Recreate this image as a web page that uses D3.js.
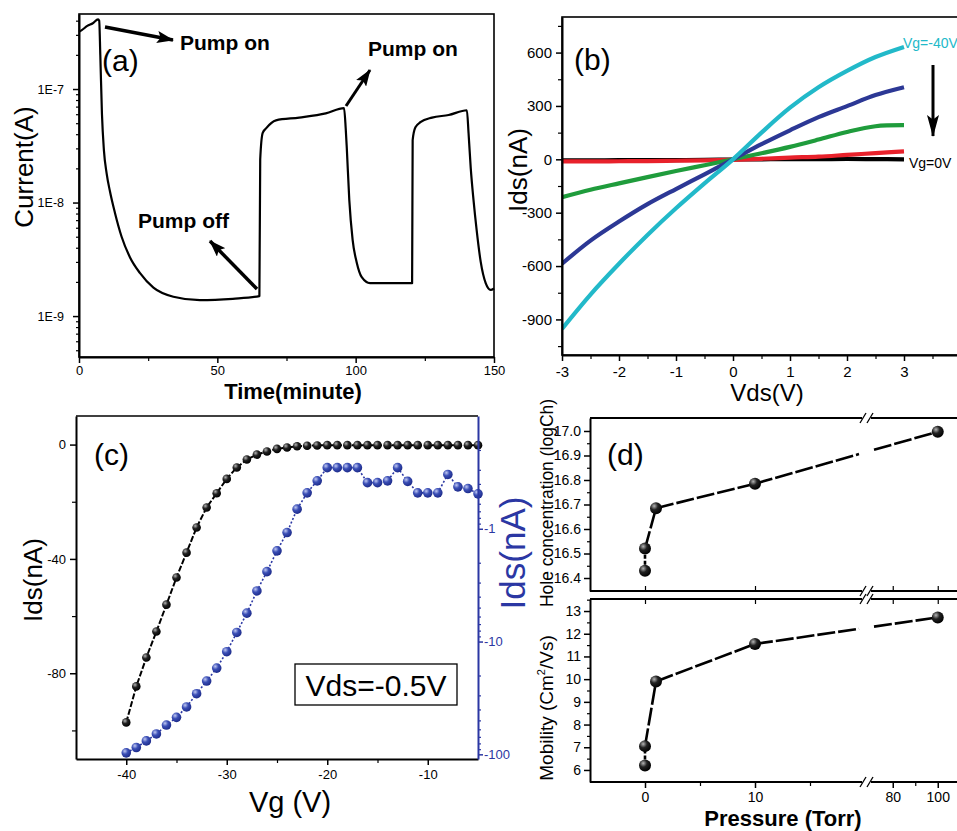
<!DOCTYPE html>
<html>
<head>
<meta charset="utf-8">
<script src="https://cdn.jsdelivr.net/npm/d3@7/dist/d3.min.js"></script>
<style>
html,body{margin:0;padding:0;background:#fff;}
svg{display:block;}
</style>
</head>
<body>
<svg id="fig" width="957" height="831"></svg>
<script>
// ================= DATA =================
// (a) current vs time
const aTime = [0,1,3,5,6.9,7.3,7.7,8.3,9,10,11.2,13,15.4,18.4,22,26.9,34.1,43.7,55.6,65.2,65.5,66.4,67.6,71.2,79.6,89.2,95.8,96.4,96.8,97.7,98.9,100.4,102.2,105.2,112,120.4,120.6,121.6,123.4,127.6,133.6,140.2,140.8,141.6,142.6,143.7,145.2,147,148.8,150];
const aCurrent = [3.2e-7,3.3e-7,3.6e-7,3.8e-7,4.1e-7,4.0e-7,2.0e-7,6e-8,2.9e-8,1.8e-8,1.25e-8,8.1e-9,5.0e-9,3.3e-9,2.4e-9,1.78e-9,1.48e-9,1.38e-9,1.42e-9,1.5e-9,2.4e-8,4.1e-8,4.5e-8,5.3e-8,5.6e-8,6.1e-8,6.8e-8,4.5e-8,3e-8,1.05e-8,4.7e-9,2.95e-9,2.2e-9,1.95e-9,1.95e-9,1.95e-9,3.55e-8,4.6e-8,5.1e-8,5.6e-8,5.9e-8,6.5e-8,4.1e-8,2e-8,1.05e-8,5.8e-9,3.0e-9,1.95e-9,1.7e-9,1.75e-9];
const aXTicks = [0,50,100,150];
const aXMinor = [25,75,125];
const aYTicks = [1e-9,1e-8,1e-7];
const aYTickLabels = ["1E-9","1E-8","1E-7"];

// (b) Ids vs Vds for several Vg
const bVds   = [-3,-2.5,-2,-1.5,-1,-0.5,0,0.5,1,1.5,2,2.5,3];
const bBlack = [-6,-6,-5,-5,-4,-3,-1,0,1,1,2,1,0];
const bRed   = [-12,-12,-11,-10,-8,-6,-3,3,10,15,25,35,45];
const bGreen = [-213,-171,-135,-100,-66,-33,0,34,70,111,154,186,192];
const bBlue  = [-587,-457,-350,-252,-167,-85,0,85,163,237,299,361,405];
const bCyan  = [-953,-760,-587,-425,-275,-135,0,150,290,405,497,575,632];
const bXTicks = [-3,-2,-1,0,1,2,3];
const bXMinor = [-2.5,-1.5,-0.5,0.5,1.5,2.5,3.5];
const bYTicks = [-900,-600,-300,0,300,600];
const bYMinor = [-1050,-750,-450,-150,150,450,750];

// (c) transfer curve
const cVg = [-40,-39,-38,-37,-36,-35,-34,-33,-32,-31,-30,-29,-28,-27,-26,-25,-24,-23,-22,-21,-20,-19,-18,-17,-16,-15,-14,-13,-12,-11,-10,-9,-8,-7,-6,-5];
const cIdsLin = [-97.2,-84.6,-74.5,-65.4,-56,-46.5,-37.8,-29,-22,-17,-12,-8,-5.2,-3.5,-2.4,-1.5,-1,-0.6,-0.4,-0.3,-0.2,-0.2,-0.2,-0.2,-0.2,-0.2,-0.2,-0.2,-0.2,-0.2,-0.2,-0.2,-0.2,-0.2,-0.2,-0.2];
const cIdsLog = [-97,-87,-76,-66,-55,-47,-38,-29,-22.4,-17.2,-12.3,-8.3,-5.6,-3.56,-2.4,-1.57,-1.08,-0.67,-0.48,-0.376,-0.287,-0.287,-0.287,-0.287,-0.39,-0.39,-0.376,-0.287,-0.38,-0.48,-0.48,-0.48,-0.33,-0.425,-0.44,-0.49];
const cXTicks = [-40,-30,-20,-10];
const cXMinor = [-35,-25,-15];
const cYTicks = [0,-40,-80];
const cYMinor = [-20,-60,-100];
const cY2Ticks = [-1,-10,-100];

// (d) hole concentration and mobility vs pressure
const dPressure = [0,0,1,10,100];
const dHole = [16.43,16.52,16.685,16.785,16.997];
const dMobility = [6.2,7.05,9.9,11.55,12.72];
const dHoleTicks = [16.4,16.5,16.6,16.7,16.8,16.9,17.0];
const dMobTicks = [6,7,8,9,10,11,12,13];
const dXTicksLeft = [0,10];
const dXTicksRight = [80,100];
const dXMinorLeft = [5,15];
const dXMinorRight = [90];

// ================= DRAWING =================
const F = '"Liberation Sans", Arial, Helvetica, sans-serif';
const svg = d3.select("#fig");
svg.append("rect").attr("width",957).attr("height",831).attr("fill","#fff");
const defs = svg.append("defs");

function radial(id, c0, c1, c2){
  const g = defs.append("radialGradient").attr("id",id).attr("cx","35%").attr("cy","32%").attr("r","70%");
  g.append("stop").attr("offset","0%").attr("stop-color",c0);
  g.append("stop").attr("offset","45%").attr("stop-color",c1);
  g.append("stop").attr("offset","100%").attr("stop-color",c2);
}
radial("sphK","#b4b4b4","#222","#000");
radial("sphB","#c0c8f2","#3b4fb6","#1d2b8a");

function arrowMarker(id, w, h){
  defs.append("marker").attr("id",id).attr("markerUnits","userSpaceOnUse")
    .attr("viewBox",`0 0 ${w} ${h}`).attr("refX",w-1).attr("refY",h/2)
    .attr("markerWidth",w).attr("markerHeight",h).attr("orient","auto")
    .append("path").attr("d",`M0,0 L${w},${h/2} L0,${h} L${w*0.2},${h/2} Z`).attr("fill","#000");
}
arrowMarker("arrA",17,12);
arrowMarker("arrB",22,12);

function styleAxis(g, fs, color){
  color = color || "#000";
  g.attr("font-family",F).attr("font-size",fs);
  g.select(".domain").attr("stroke",color).attr("stroke-width",2);
  g.selectAll(".tick line").attr("stroke",color).attr("stroke-width",1.5);
  g.selectAll(".tick text").attr("fill",color);
  return g;
}
function minor(g, color){
  g.select(".domain").remove();
  g.selectAll(".tick line").attr("stroke",color||"#000").attr("stroke-width",1.2);
  g.selectAll(".tick text").remove();
}
const fmt = d => String(d);

function text(g, x, y, s, size, opts){
  opts = opts || {};
  return g.append("text").attr("x",x).attr("y",y).attr("font-family",F).attr("font-size",size)
    .attr("fill",opts.fill||"#000").attr("text-anchor",opts.anchor||"start")
    .attr("font-weight",opts.weight||"normal").text(s);
}
function vtext(g, x, y, s, size, opts){
  opts = opts || {};
  return g.append("text").attr("transform",`translate(${x},${y}) rotate(-90)`)
    .attr("font-family",F).attr("font-size",size).attr("fill",opts.fill||"#000")
    .attr("text-anchor","middle").attr("font-weight",opts.weight||"normal").text(s);
}

// ---------- Panel (a) ----------
{
  const xA = d3.scaleLinear().domain([0,150]).range([79,494]);
  const yA = d3.scaleLog().domain([4.36e-10,4.58e-7]).range([357,14]);
  const g = svg.append("g");
  g.append("rect").attr("x",79).attr("y",14).attr("width",415).attr("height",343)
    .attr("fill","none").attr("stroke","#000").attr("stroke-width",1.6);
  styleAxis(g.append("g").attr("transform","translate(0,357)")
    .call(d3.axisBottom(xA).tickValues(aXTicks).tickFormat(fmt).tickSize(6).tickSizeOuter(0).tickPadding(3)), 13);
  g.append("g").attr("transform","translate(0,357)")
    .call(d3.axisBottom(xA).tickValues(aXMinor).tickSize(4).tickFormat("")).call(minor);
  styleAxis(g.append("g").attr("transform","translate(79,0)")
    .call(d3.axisLeft(yA).tickValues(aYTicks).tickFormat((d,i)=>aYTickLabels[i]).tickSize(6).tickSizeOuter(0).tickPadding(9)), 12.5);
  const dom = yA.domain(), aMinor = [];
  [-10,-9,-8,-7].forEach(e => { for (let k=2;k<=9;k++){ const v=k*Math.pow(10,e); if (v>dom[0] && v<dom[1]) aMinor.push(v);} });
  g.append("g").attr("transform","translate(79,0)")
    .call(d3.axisLeft(yA).tickValues(aMinor).tickSize(3).tickFormat("")).call(minor);

  const pts = aTime.map((t,i)=>[t,aCurrent[i]]);
  g.append("path").datum(pts)
    .attr("d", d3.line().x(d=>xA(d[0])).y(d=>yA(d[1])).curve(d3.curveMonotoneX))
    .attr("fill","none").attr("stroke","#000").attr("stroke-width",2.2).attr("stroke-linejoin","round");

  text(g, 102, 71, "(a)", 30);
  g.append("line").attr("x1",105).attr("y1",27).attr("x2",173).attr("y2",40)
    .attr("stroke","#000").attr("stroke-width",3.5).attr("marker-end","url(#arrA)");
  text(g, 180, 50, "Pump on", 21, {weight:"bold"});
  g.append("line").attr("x1",346).attr("y1",106).attr("x2",370).attr("y2",70)
    .attr("stroke","#000").attr("stroke-width",3).attr("marker-end","url(#arrA)");
  text(g, 368, 56, "Pump on", 21, {weight:"bold"});
  g.append("line").attr("x1",257).attr("y1",289).attr("x2",210).attr("y2",241)
    .attr("stroke","#000").attr("stroke-width",3.5).attr("marker-end","url(#arrA)");
  text(g, 138, 228, "Pump off", 21, {weight:"bold"});

  vtext(g, 33, 167, "Current(A)", 26);
  text(g, 293, 399, "Time(minute)", 22, {anchor:"middle", weight:"bold"});
}

// ---------- Panel (b) ----------
{
  const xB = d3.scaleLinear().domain([-3,4]).range([562,961]);
  const yB = d3.scaleLinear().domain([-1100,800]).range([355,17]);
  const g = svg.append("g");
  defs.append("clipPath").attr("id","clipB").append("rect").attr("x",562).attr("y",17).attr("width",400).attr("height",338);

  const series = [
    {v:bBlack, c:"#000000"},
    {v:bRed,   c:"#e8212b"},
    {v:bGreen, c:"#1f9c3c"},
    {v:bBlue,  c:"#2c3895"},
    {v:bCyan,  c:"#22b9c9"}
  ];
  const line = d3.line().x((d,i)=>xB(bVds[i])).y(d=>yB(d)).curve(d3.curveCatmullRom.alpha(0.5));
  const lg = g.append("g").attr("clip-path","url(#clipB)");
  series.forEach(s => {
    lg.append("path").datum(s.v).attr("d",line).attr("fill","none")
      .attr("stroke",s.c).attr("stroke-width",4.2).attr("stroke-linecap","butt");
  });

  g.append("rect").attr("x",562).attr("y",17).attr("width",400).attr("height",338)
    .attr("fill","none").attr("stroke","#000").attr("stroke-width",1.6);
  styleAxis(g.append("g").attr("transform","translate(0,355)")
    .call(d3.axisBottom(xB).tickValues(bXTicks).tickFormat(fmt).tickSize(6).tickSizeOuter(0).tickPadding(5)), 15);
  g.append("g").attr("transform","translate(0,355)")
    .call(d3.axisBottom(xB).tickValues(bXMinor).tickSize(4).tickFormat("")).call(minor);
  styleAxis(g.append("g").attr("transform","translate(562,0)")
    .call(d3.axisLeft(yB).tickValues(bYTicks).tickFormat(fmt).tickSize(6).tickSizeOuter(0).tickPadding(4)), 15);
  g.append("g").attr("transform","translate(562,0)")
    .call(d3.axisLeft(yB).tickValues(bYMinor).tickSize(4).tickFormat("")).call(minor);

  text(g, 574, 70, "(b)", 30);
  text(g, 903, 48, "Vg=-40V", 14, {fill:"#22b9c9"});
  text(g, 909, 168, "Vg=0V", 14);
  g.append("line").attr("x1",933).attr("y1",65).attr("x2",933).attr("y2",136)
    .attr("stroke","#000").attr("stroke-width",3).attr("marker-end","url(#arrB)");

  vtext(g, 527, 170, "Ids(nA)", 26);
  text(g, 767, 401, "Vds(V)", 24, {anchor:"middle"});
}

// ---------- Panel (c) ----------
{
  const xC = d3.scaleLinear().domain([-45,-5]).range([76,478]);
  const yC = d3.scaleLinear().domain([-110,10]).range([759,416]);
  const yC2 = d3.scaleLog().domain([-0.1,-110]).range([416,759]);
  const blue = "#2b37a3";
  const g = svg.append("g");

  g.append("line").attr("x1",76).attr("x2",478).attr("y1",416).attr("y2",416).attr("stroke","#000").attr("stroke-width",1.6);

  g.append("path").datum(cIdsLog)
    .attr("d", d3.line().x((d,i)=>xC(cVg[i])).y(d=>yC2(d)))
    .attr("fill","none").attr("stroke",blue).attr("stroke-width",1.6).attr("stroke-dasharray","2,2");
  g.selectAll("circle.b").data(cIdsLog).join("circle").attr("class","b")
    .attr("cx",(d,i)=>xC(cVg[i])).attr("cy",d=>yC2(d)).attr("r",4.8).attr("fill","url(#sphB)");

  g.append("path").datum(cIdsLin)
    .attr("d", d3.line().x((d,i)=>xC(cVg[i])).y(d=>yC(d)))
    .attr("fill","none").attr("stroke","#000").attr("stroke-width",2).attr("stroke-dasharray","6,2");
  g.selectAll("circle.k").data(cIdsLin).join("circle").attr("class","k")
    .attr("cx",(d,i)=>xC(cVg[i])).attr("cy",d=>yC(d)).attr("r",4.3).attr("fill","url(#sphK)");

  styleAxis(g.append("g").attr("transform","translate(0,759)")
    .call(d3.axisBottom(xC).tickValues(cXTicks).tickFormat(fmt).tickSize(6).tickSizeOuter(0).tickPadding(5)), 13);
  g.append("g").attr("transform","translate(0,759)")
    .call(d3.axisBottom(xC).tickValues(cXMinor).tickSize(4).tickFormat("")).call(minor);
  styleAxis(g.append("g").attr("transform","translate(76,0)")
    .call(d3.axisLeft(yC).tickValues(cYTicks).tickFormat(fmt).tickSize(6).tickSizeOuter(0).tickPadding(4)), 13);
  g.append("g").attr("transform","translate(76,0)")
    .call(d3.axisLeft(yC).tickValues(cYMinor).tickSize(4).tickFormat("")).call(minor);

  styleAxis(g.append("g").attr("transform","translate(478,0)")
    .call(d3.axisRight(yC2).tickValues(cY2Ticks).tickFormat(fmt).tickSize(5).tickSizeOuter(0).tickPadding(1)), 13, blue);
  const d2 = yC2.domain(), cMinor = [];
  [-1,0,1].forEach(e => { for (let k=2;k<=9;k++){ const v=-k*Math.pow(10,e); if (v<d2[0] && v>d2[1]) cMinor.push(v);} });
  g.append("g").attr("transform","translate(478,0)")
    .call(d3.axisRight(yC2).tickValues(cMinor).tickSize(3).tickFormat("")).call(minor, blue);

  g.append("rect").attr("x",295).attr("y",664).attr("width",162).attr("height",41)
    .attr("fill","#fff").attr("stroke","#000").attr("stroke-width",1.3);
  text(g, 376, 696, "Vds=-0.5V", 30, {anchor:"middle"});

  text(g, 94, 465, "(c)", 30);
  vtext(g, 42, 580, "Ids(nA)", 26);
  vtext(g, 525, 553, "Ids(nA)", 35, {fill:blue});
  text(g, 290, 812, "Vg (V)", 29, {anchor:"middle"});
}

// ---------- Panel (d) ----------
{
  const xD1 = d3.scaleLinear().domain([-5,20]).range([590,865]);
  const xD2 = d3.scaleLinear().domain([69,125]).range([868,994]);
  const xD = p => p <= 20 ? xD1(p) : xD2(p);
  const yH = d3.scaleLinear().domain([16.347,17.053]).range([591,418]);
  const yM = d3.scaleLinear().domain([5.47,13.53]).range([782,599]);
  const g = svg.append("g");
  const L = 590, R = 957, b1 = xD1.range()[1], b2 = xD2.range()[0];

  function brokenH(y){
    g.append("line").attr("x1",L).attr("x2",b1-3).attr("y1",y).attr("y2",y).attr("stroke","#000").attr("stroke-width",1.8);
    g.append("line").attr("x1",b2+3).attr("x2",R).attr("y1",y).attr("y2",y).attr("stroke","#000").attr("stroke-width",1.8);
    [b1-2, b2+2].forEach(x => g.append("line").attr("x1",x-3).attr("y1",y+5).attr("x2",x+3).attr("y2",y-5)
      .attr("stroke","#000").attr("stroke-width",1.3));
  }
  brokenH(418); brokenH(591); brokenH(599); brokenH(782);

  function xTicks(y, size, values, scale){
    g.append("g").attr("transform",`translate(0,${y})`)
      .call(d3.axisBottom(scale).tickValues(values).tickSize(size).tickFormat("")).call(minor);
  }
  xTicks(591, -5, dXTicksLeft, xD1); xTicks(591, -5, dXTicksRight, xD2);
  xTicks(599, 5, dXTicksLeft, xD1); xTicks(599, 5, dXTicksRight, xD2);
  [[dXTicksLeft,xD1],[dXTicksRight,xD2]].forEach(([vals,sc]) => {
    const ax = g.append("g").attr("transform","translate(0,782)")
      .call(d3.axisBottom(sc).tickValues(vals).tickFormat(fmt).tickSize(6).tickPadding(4));
    styleAxis(ax, 14); ax.select(".domain").remove();
  });
  xTicks(782, 4, dXMinorLeft, xD1); xTicks(782, 4, dXMinorRight, xD2);

  styleAxis(g.append("g").attr("transform",`translate(${L},0)`)
    .call(d3.axisLeft(yH).tickValues(dHoleTicks).tickFormat(d3.format(".1f")).tickSize(6).tickSizeOuter(0).tickPadding(3)), 14);
  g.append("g").attr("transform",`translate(${L},0)`)
    .call(d3.axisLeft(yH).tickValues(dHoleTicks.map(v=>v+0.05).filter(v=>v<17.05)).tickSize(3).tickFormat("")).call(minor);
  styleAxis(g.append("g").attr("transform",`translate(${L},0)`)
    .call(d3.axisLeft(yM).tickValues(dMobTicks).tickFormat(fmt).tickSize(6).tickSizeOuter(0).tickPadding(3)), 14);
  g.append("g").attr("transform",`translate(${L},0)`)
    .call(d3.axisLeft(yM).tickValues(dMobTicks.map(v=>v+0.5)).tickSize(3).tickFormat("")).call(minor);

  function series(vals, ys){
    for (let i=0;i<vals.length-1;i++){
      const p1 = dPressure[i], p2 = dPressure[i+1];
      const x1 = xD(p1), y1 = ys(vals[i]), x2 = xD(p2), y2 = ys(vals[i+1]);
      const seg = (ax,ay,bx,by) => g.append("line").attr("x1",ax).attr("y1",ay).attr("x2",bx).attr("y2",by)
        .attr("stroke","#000").attr("stroke-width",2.6).attr("stroke-dasharray", i===0 ? "4,2" : "18,3");
      if (p1 <= 20 && p2 > 20){
        const gl = b1-6, gr = b2+6;
        const yl = y1 + (y2-y1)*(gl-x1)/(x2-x1), yr = y1 + (y2-y1)*(gr-x1)/(x2-x1);
        seg(x1,y1,gl,yl); seg(gr,yr,x2,y2);
      } else seg(x1,y1,x2,y2);
    }
    g.selectAll(null).data(vals).join("circle")
      .attr("cx",(d,i)=>xD(dPressure[i])).attr("cy",d=>ys(d)).attr("r",6).attr("fill","url(#sphK)");
  }
  series(dHole, yH);
  series(dMobility, yM);

  text(g, 607, 465, "(d)", 30);
  vtext(g, 553, 503, "Hole concentration (logCh)", 17.5);
  const mt = g.append("text").attr("transform","translate(553,708) rotate(-90)")
    .attr("font-family",F).attr("font-size",19).attr("text-anchor","middle");
  mt.append("tspan").text("Mobility (Cm");
  mt.append("tspan").attr("font-size",11).attr("dy",-8).text("2");
  mt.append("tspan").attr("dy",8).text("/Vs)");
  text(g, 783, 826, "Pressure (Torr)", 22, {anchor:"middle", weight:"bold"});
}
</script>
</body>
</html>
